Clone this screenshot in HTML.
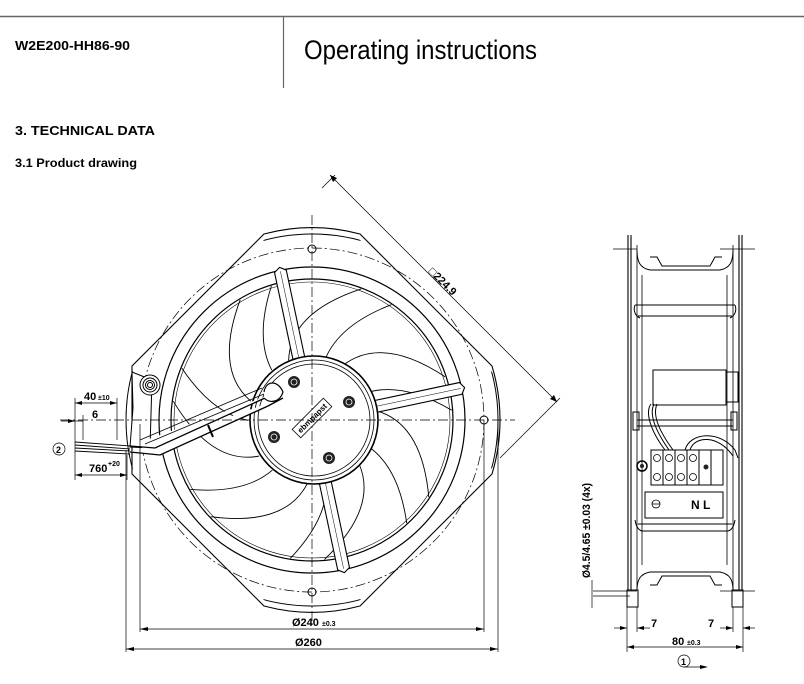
<!DOCTYPE html>
<html><head><meta charset="utf-8"><style>
html,body{margin:0;padding:0;background:#fff;}
svg{display:block;}
text{font-family:"Liberation Sans",Arial,sans-serif;}
</style></head><body>
<svg id="s" width="804" height="684" viewBox="0 0 804 684" xmlns="http://www.w3.org/2000/svg">
<rect width="804" height="684" fill="#fff"/>
<!-- header -->
<line x1="0" y1="16.5" x2="804" y2="16.5" stroke="#666" stroke-width="1.5"/>
<line x1="283.5" y1="16" x2="283.5" y2="88" stroke="#666" stroke-width="1.2"/>
<text x="15" y="50" font-size="13" font-weight="bold" textLength="115" lengthAdjust="spacingAndGlyphs">W2E200-HH86-90</text>
<text x="304" y="59" font-size="27" textLength="233" lengthAdjust="spacingAndGlyphs">Operating instructions</text>
<text x="15" y="135" font-size="13" font-weight="bold" textLength="140" lengthAdjust="spacingAndGlyphs">3. TECHNICAL DATA</text>
<text x="15" y="167" font-size="12" font-weight="bold" textLength="122" lengthAdjust="spacingAndGlyphs">3.1 Product drawing</text>

<g id="front" fill="none" stroke="#000" stroke-width="1">
<!-- frame: diamond ∩ circle -->
<clipPath id="dc"><polygon points="312,192 540,420 312,648 84,420"/></clipPath>
<circle cx="312" cy="420" r="186" clip-path="url(#dc)" fill="#fff"/>
<path d="M264,234 A186,186 0 0 1 360,234 L492,366 A186,186 0 0 1 492,474 L360,606 A186,186 0 0 1 264,606 L132,474 L132,366 Z" stroke-width="1.1"/>
<circle cx="312" cy="420" r="172" stroke-dasharray="10,3,2,3" stroke-width="0.7"/>
<circle cx="312" cy="420" r="153" stroke-width="1.2"/>
<circle cx="312" cy="420" r="141" stroke-width="1.2"/>
<circle cx="312" cy="420" r="138" stroke-width="0.6"/>
<g id="blades"></g>
<g id="struts"></g>
<!-- hub -->
<circle cx="314" cy="420" r="64" fill="#fff" stroke-width="1.6"/>
<circle cx="314" cy="420" r="60" stroke-width="0.8"/>
<circle cx="314" cy="420" r="56" stroke-width="0.8"/>
<g fill="#222" stroke="none">
<circle cx="294" cy="382" r="6"/><circle cx="349" cy="402" r="6"/><circle cx="274" cy="437" r="6"/><circle cx="329" cy="458" r="6"/>
</g>
<g fill="none" stroke="#fff" stroke-width="0.8"><circle cx="294" cy="382" r="3"/><circle cx="349" cy="402" r="3"/><circle cx="274" cy="437" r="3"/><circle cx="329" cy="458" r="3"/></g>
<g transform="translate(312,418) rotate(-45)"><rect x="-22" y="-6" width="44" height="12" fill="#fff" stroke-width="0.8"/><text x="0" y="3" font-size="8" font-weight="bold" text-anchor="middle" fill="#000" stroke="none">ebmpapst</text></g>
<!-- mounting holes -->
<g stroke-width="1"><circle cx="312" cy="249" r="4"/><circle cx="312" cy="592" r="4"/><circle cx="140" cy="420" r="4"/><circle cx="484" cy="420" r="4"/></g>
<!-- cable gland -->
<path d="M132,372 L133,408 L130,447 L150,448 L152,380 Z" fill="#fff"/>
<circle cx="150" cy="385" r="10" fill="#fff"/><circle cx="150" cy="385" r="7"/><circle cx="150" cy="385" r="4.5"/><circle cx="150" cy="385" r="2.5"/>
<!-- cable -->
<path d="M130,446 L155,448 L265,398 L278,392 M130,452 L160,455 L268,406 L283,398" fill="#fff" stroke-width="1.3"/>
<path d="M140,440 L262,388 M145,444 L264,394" stroke-width="0.8"/>
<path d="M264,392 C266,380 278,380 283,392 C280,402 270,404 264,398" stroke-width="1.2" fill="#fff"/>
<path d="M208,425 L213,437" stroke-width="2"/>
<path d="M75,442 L130,446 M75,445 L130,449 M75,448 L130,451 M75,451 L130,454" stroke-width="0.9"/>
<!-- center lines -->
<line x1="312" y1="215" x2="312" y2="625" stroke-dasharray="10,3,2,3" stroke-width="0.7"/>
<line x1="60" y1="420" x2="515" y2="420" stroke-dasharray="10,3,2,3" stroke-width="0.7"/>
</g>

<!-- dimensions front -->
<g stroke="#000" stroke-width="0.7" fill="none">
<line x1="140" y1="424" x2="140" y2="632"/><line x1="484" y1="424" x2="484" y2="632"/>
<line x1="126" y1="450" x2="126" y2="652"/><line x1="498" y1="420" x2="498" y2="652"/>
<line x1="140" y1="629" x2="484" y2="629"/><line x1="126" y1="649" x2="498" y2="649"/>
<line x1="330" y1="175" x2="557" y2="402"/>
<line x1="322" y1="188" x2="335" y2="175"/><line x1="500" y1="458" x2="560" y2="398"/>
<!-- left dims -->
<line x1="75" y1="398" x2="75" y2="480"/><line x1="117" y1="398" x2="117" y2="440"/><line x1="83" y1="415" x2="83" y2="440"/><line x1="127" y1="455" x2="127" y2="480"/>
<line x1="75" y1="403" x2="117" y2="403"/><line x1="61" y1="421" x2="83" y2="421"/><line x1="75" y1="475" x2="127" y2="475"/>
<circle cx="59" cy="449" r="6"/>
</g>
<g fill="#000">
<path d="M140,629 l8,-2 v4z M484,629 l-8,-2 v4z M126,649 l8,-2 v4z M498,649 l-8,-2 v4z"/>
<path d="M330,175 l3,7 l4,-4z M557,402 l-7,-3 l4,-4z"/>
<path d="M75,403 l7,-2 v4z M117,403 l-7,-2 v4z M75,421 l-7,-2 v4z M75,475 l7,-2 v4z M127,475 l-7,-2 v4z"/>
</g>
<g font-weight="bold" fill="#000">
<text x="292" y="626" font-size="11">Ø240</text><text x="322" y="626" font-size="7">±0.3</text>
<text x="295" y="646" font-size="11">Ø260</text>
<text x="84" y="400" font-size="11">40</text><text x="98" y="400" font-size="7">±10</text>
<text x="92" y="418" font-size="11">6</text>
<text x="89" y="472" font-size="11">760</text><text x="108" y="466" font-size="7">+20</text>
<text x="56" y="453" font-size="9">2</text>
<text transform="translate(428,272) rotate(45)" font-size="11">□224.9</text>
</g>

<!-- side view -->
<g fill="none" stroke="#000" stroke-width="1">
<path d="M628,235 V607 M631,235 V607 M739,235 V607 M742,235 V607" stroke-width="1.1"/>
<path d="M637,245 V600 M733,245 V600 M642,275 V565 M727,275 V565" stroke-width="0.8"/>
<path d="M637,250 C637,262 640,268 650,270 L720,270 C730,268 733,262 733,250"/>
<path d="M650,257 L657,257 L662,266 L710,266 L715,257 L722,257"/>
<path d="M635,305 L735,305 M638,316 L732,316 M635,305 C633,310 635,316 640,318 M735,305 C737,310 735,316 730,318"/>
<rect x="653" y="370" width="73" height="35" fill="#fff"/>
<rect x="726" y="372" width="12" height="30"/>
<path d="M637,420 L733,420 M637,426 L733,426"/>
<rect x="633" y="412" width="6" height="18"/><rect x="731" y="412" width="6" height="18"/>
<path d="M651,404 C645,412 650,430 665,450 M654,404 C649,414 655,430 669,450 M657,404 C652,416 660,432 673,450"/>
<path d="M685,450 C690,432 720,430 735,450 L738,458 M690,450 C694,436 718,434 733,456"/>
<rect x="651" y="450" width="72" height="35" fill="#fff"/>
<path d="M663,450 V485 M675,450 V485 M687,450 V485 M699,450 V485 M711,450 V485"/>
<g stroke-width="0.8"><circle cx="657" cy="458" r="3.5"/><circle cx="669" cy="458" r="3.5"/><circle cx="681" cy="458" r="3.5"/><circle cx="693" cy="458" r="3.5"/><circle cx="657" cy="477" r="3.5"/><circle cx="669" cy="477" r="3.5"/><circle cx="681" cy="477" r="3.5"/><circle cx="693" cy="477" r="3.5"/></g>
<circle cx="642" cy="466" r="5" stroke-width="1.5"/>
<rect x="645" y="492" width="78" height="26" fill="#fff"/>
<circle cx="656" cy="504" r="4" stroke-width="0.8"/><line x1="652" y1="504" x2="660" y2="504" stroke-width="0.8"/>
<path d="M635,520 C636,526 638,530 642,531 L728,531 C732,530 734,526 735,520 M638,524 L732,524"/>
<path d="M637,590 C637,580 640,574 650,572 L720,572 C730,574 733,580 733,590"/>
<path d="M650,585 L657,585 L662,576 L710,576 L715,585 L722,585"/>
<rect x="627" y="590" width="11" height="17" fill="#fff"/><rect x="732" y="590" width="11" height="17" fill="#fff"/>
</g>
<g fill="#222"><circle cx="706" cy="467" r="2.5"/><circle cx="642" cy="466" r="2"/></g>
<text x="691" y="509" font-size="12" font-weight="bold" fill="#000">N L</text>
<g stroke="#000" stroke-width="0.7" fill="none">
<line x1="613" y1="249" x2="637" y2="249"/><line x1="720" y1="249" x2="755" y2="249"/>
<line x1="593" y1="591" x2="637" y2="591"/><line x1="720" y1="591" x2="755" y2="591"/>
<line x1="593" y1="596" x2="630" y2="596"/>
<line x1="592" y1="580" x2="592" y2="608"/>
<line x1="627" y1="607" x2="627" y2="652"/><line x1="637" y1="607" x2="637" y2="632"/><line x1="733" y1="607" x2="733" y2="632"/><line x1="743" y1="607" x2="743" y2="652"/>
<line x1="614" y1="628" x2="627" y2="628"/><line x1="637" y1="628" x2="650" y2="628"/>
<line x1="720" y1="628" x2="733" y2="628"/><line x1="743" y1="628" x2="755" y2="628"/>
<line x1="627" y1="647" x2="743" y2="647"/>
<circle cx="684" cy="661" r="6"/>
<line x1="684" y1="667" x2="704" y2="667"/>
</g>
<g fill="#000">
<path d="M627,628 l-7,-2 v4z M637,628 l7,-2 v4z M733,628 l-7,-2 v4z M743,628 l7,-2 v4z M627,647 l7,-2 v4z M743,647 l-7,-2 v4z M708,667 l-8,-2 v4z"/>
</g>
<g font-weight="bold" fill="#000">
<text x="651" y="627" font-size="11">7</text><text x="708" y="627" font-size="11">7</text>
<text x="672" y="645" font-size="11">80</text><text x="687" y="645" font-size="7">±0.3</text>
<text x="681" y="665" font-size="9">1</text>
<text transform="translate(590,578) rotate(-90)" font-size="11" textLength="95" lengthAdjust="spacingAndGlyphs">Ø4.5/4.65 ±0.03  (4x)</text>
</g>
<script>
(function(){
var ns="http://www.w3.org/2000/svg",cx=312,cy=420;
function P(r,a){a=a*Math.PI/180;return [(cx+r*Math.cos(a)).toFixed(1),(cy+r*Math.sin(a)).toFixed(1)];}
var b=document.getElementById('blades'),d="";
for(var i=0;i<7;i++){var a=i*360/7-60;
var h1=P(64,a),c1=P(110,a+10),t1=P(140,a+42),c2=P(100,a+38),h2=P(64,a+34);
d+="M"+h1+" Q"+c1+" "+t1+" M"+h2+" Q"+c2+" "+P(140,a+56)+" ";}
var p=document.createElementNS(ns,'path');p.setAttribute('d',d);p.setAttribute('stroke-width','0.9');b.appendChild(p);
var s=document.getElementById('struts'),ang=[-102,-12,78];
ang.forEach(function(a){var r=a*Math.PI/180,nx=-Math.sin(r)*6,ny=Math.cos(r)*6;
var A=P(60,a),B=P(152,a);
var pts=[(+A[0]+nx)+","+(+A[1]+ny),(+B[0]+nx)+","+(+B[1]+ny),P(156,a).join(","),(+B[0]-nx)+","+(+B[1]-ny),(+A[0]-nx)+","+(+A[1]-ny)].join(" ");
var q=document.createElementNS(ns,'polygon');q.setAttribute('points',pts);q.setAttribute('fill','#fff');q.setAttribute('stroke-width','1.1');s.appendChild(q);
var l=document.createElementNS(ns,'line');l.setAttribute('x1',A[0]);l.setAttribute('y1',A[1]);l.setAttribute('x2',B[0]);l.setAttribute('y2',B[1]);l.setAttribute('stroke-width','0.5');s.appendChild(l);});
})();
</script>
</svg>
</body></html>
